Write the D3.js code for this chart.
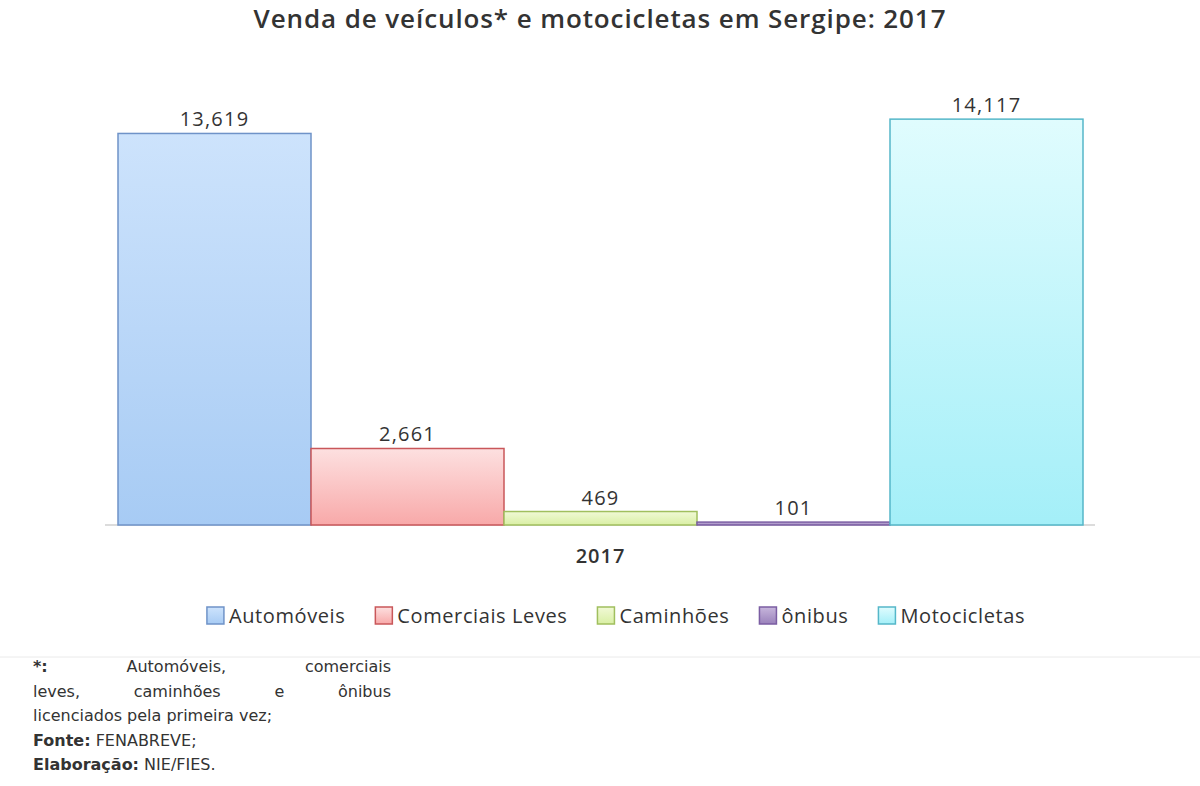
<!DOCTYPE html>
<html>
<head>
<meta charset="utf-8">
<script src="https://cdn.jsdelivr.net/npm/d3@7"></script>
<style>
  body { margin: 0; background: #fff; }
  text { font-family: "Open Sans", "Noto Sans", sans-serif; }
</style>
</head>
<body>
<svg id="chart" width="1200" height="786"></svg>
<script>
"use strict";

var categories = ["2017"];
var seriesNames = ["Automóveis", "Comerciais Leves", "Caminhões", "ônibus", "Motocicletas"];
var seriesValues = [13619, 2661, 469, 101, 14117];
var fillTop = ["#cde3fc", "#fde0e0", "#f1f9d6", "#c7b6dc", "#e0fcfe"];
var fillBottom = ["#a7cbf4", "#f8a9a9", "#d9efa4", "#9a82bb", "#a4eff8"];
var strokes = ["#6f93c8", "#c9575a", "#a0bf5e", "#7b5ea3", "#55b7c9"];

var svg = d3.select("#chart");
var baseline = 525;

var defs = svg.append("defs");
seriesNames.forEach(function (s, i) {
    var g = defs.append("linearGradient").attr("id", "grad" + i)
        .attr("x1", 0).attr("y1", 0).attr("x2", 0).attr("y2", 1);
    g.append("stop").attr("offset", "0%").attr("stop-color", fillTop[i]);
    g.append("stop").attr("offset", "100%").attr("stop-color", fillBottom[i]);
});

svg.append("text")
    .attr("x", 600).attr("y", 28)
    .attr("text-anchor", "middle")
    .style("font-size", "26px").style("font-weight", 600).style("letter-spacing", "0.9px")
    .attr("fill", "#333")
    .text("Venda de veículos* e motocicletas em Sergipe: 2017");

var x0 = d3.scaleBand().domain(categories).range([118, 1083]).padding(0);
var x1 = d3.scaleBand().domain(seriesNames).range([0, x0.bandwidth()]).padding(0);
var y = d3.scaleLinear().domain([0, 16000]).range([baseline, 65]);

svg.append("line")
    .attr("x1", 105).attr("x2", 1095).attr("y1", baseline).attr("y2", baseline)
    .attr("stroke", "#d0d0d0").attr("stroke-width", 1.5);

var group = svg.selectAll("g.cat").data(categories).enter().append("g")
    .attr("transform", function (d) { return "translate(" + x0(d) + ",0)"; });

group.selectAll("rect")
    .data(seriesValues)
    .enter().append("rect")
    .attr("x", function (d, i) { return x1(seriesNames[i]); })
    .attr("y", function (d) { return y(d); })
    .attr("width", x1.bandwidth())
    .attr("height", function (d) { return Math.max(y(0) - y(d), 1); })
    .attr("fill", function (d, i) { return "url(#grad" + i + ")"; })
    .attr("stroke", function (d, i) { return strokes[i]; })
    .attr("stroke-width", 1.5);

group.selectAll("text.val")
    .data(seriesValues)
    .enter().append("text")
    .attr("x", function (d, i) { return x1(seriesNames[i]) + x1.bandwidth() / 2; })
    .attr("y", function (d) { return y(d) - 7; })
    .attr("text-anchor", "middle")
    .style("font-size", "20px").style("font-weight", 500).style("letter-spacing", "1.2px")
    .attr("fill", "#333")
    .text(function (d) { return d3.format(",")(d); });

svg.selectAll("text.cat").data(categories).enter().append("text")
    .attr("x", function (d) { return x0(d) + x0.bandwidth() / 2; })
    .attr("y", 563)
    .attr("text-anchor", "middle")
    .style("font-size", "20px").style("font-weight", 600).style("letter-spacing", "1px")
    .attr("fill", "#333")
    .text(function (d) { return d; });

// legend
var legend = svg.append("g");
var lx = 0;
seriesNames.forEach(function (s, i) {
    var item = legend.append("g").attr("transform", "translate(" + lx + ",0)");
    item.append("rect").attr("x", 0).attr("y", 607).attr("width", 17).attr("height", 17)
        .attr("fill", "url(#grad" + i + ")").attr("stroke", strokes[i]).attr("stroke-width", 1.5);
    var t = item.append("text").attr("x", 22).attr("y", 623)
        .style("font-size", "20px").style("font-weight", 500).style("letter-spacing", "0.6px")
        .attr("fill", "#333").text(s);
    lx += 22 + t.node().getComputedTextLength() + 30;
});
lx -= 30;
legend.attr("transform", "translate(" + (616 - lx / 2) + ",0)");

svg.append("line").attr("x1", 0).attr("x2", 1200).attr("y1", 657).attr("y2", 657)
    .attr("stroke", "#eaeaea");

// footnote, justified
var noteFont = "\"DejaVu Sans\", Verdana, sans-serif";
var noteLines = [
    { words: ["*:", "Automóveis,", "comerciais"], justify: true },
    { words: ["leves,", "caminhões", "e", "ônibus"], justify: true },
    { words: ["licenciados pela primeira vez;"], justify: false }
];
var left = 33, right = 391;
noteLines.forEach(function (line, li) {
    var yy = 672 + li * 24.5;
    var nodes = line.words.map(function (w, wi) {
        return svg.append("text").attr("y", yy)
            .style("font-family", noteFont)
            .style("font-size", "16px").attr("fill", "#333")
            .style("font-weight", (li === 0 && wi === 0) ? 700 : 400).text(w);
    });
    if (line.justify) {
        var total = d3.sum(nodes, function (n) { return n.node().getComputedTextLength(); });
        var gap = (right - left - total) / (nodes.length - 1);
        var cx = left;
        nodes.forEach(function (n) { n.attr("x", cx); cx += n.node().getComputedTextLength() + gap; });
    } else {
        nodes[0].attr("x", left);
    }
});
[["Fonte:", " FENABREVE;"], ["Elaboração:", " NIE/FIES."]].forEach(function (p, i) {
    var t = svg.append("text").attr("x", left).attr("y", 745.5 + i * 24.5)
        .style("font-family", noteFont)
        .style("font-size", "16px").attr("fill", "#333");
    t.append("tspan").style("font-weight", 700).text(p[0]);
    t.append("tspan").text(p[1]);
});
</script>
</body>
</html>
